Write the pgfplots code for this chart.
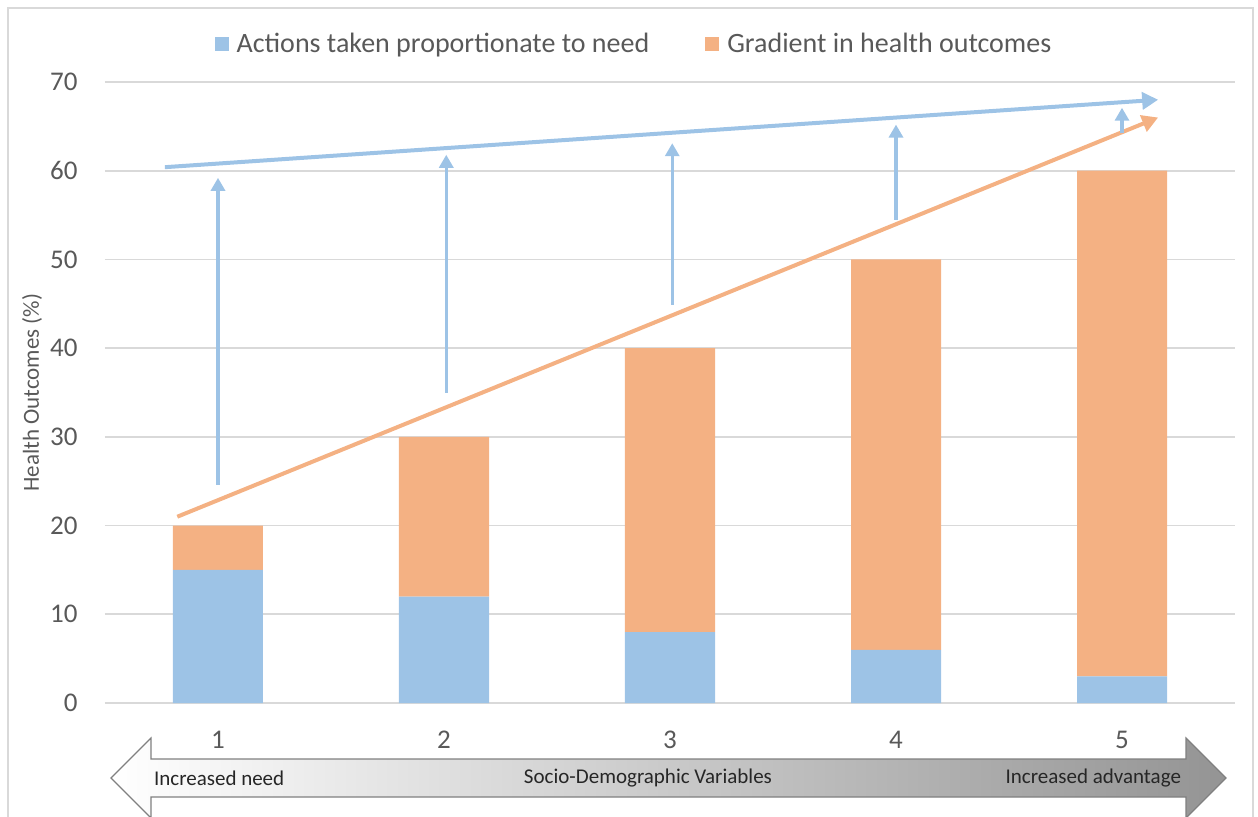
\documentclass[border=0pt]{standalone}
\usepackage{fontspec}
\setmainfont{Carlito}
\usepackage{pgfplots}
\pgfplotsset{compat=1.18}
\usetikzlibrary{arrows.meta}
\definecolor{barblue}{HTML}{9DC3E6}
\definecolor{barorange}{HTML}{F4B183}
\definecolor{txtgrey}{HTML}{595959}
\definecolor{gridgrey}{HTML}{D9D9D9}

\begin{document}
\begin{tikzpicture}
\path[use as bounding box] (-52.5pt,-56.5pt) rectangle (576.5pt,351.5pt);
\draw[gridgrey, line width=0.8pt] (-48.5pt,-70pt) |- (574pt,347.5pt) -- (574pt,-70pt);

% stacked bars
\begin{axis}[
  at={(0,0)}, anchor=south west,
  scale only axis, width=565pt, height=310.5pt,
  xmin=0.5, xmax=5.5, ymin=0, ymax=70,
  ybar stacked, bar width=45pt,
  xtick={1,...,5}, ytick={0,10,...,70},
  ymajorgrids, grid style={gridgrey, line width=0.8pt},
  axis line style={draw=none}, major tick length=0pt,
  tick label style={font=\fontsize{13.5}{15}\selectfont, text=txtgrey},
  /pgf/number format/assume math mode=true,
  xticklabel style={anchor=center, inner sep=0pt, yshift=-18.5pt},
  yticklabel style={anchor=east, inner sep=0pt, xshift=-13.5pt},
  ylabel={Health Outcomes (\%)},
  ylabel style={at={(axis description cs:-0.0646,0.5)}, anchor=center,
    font=\fontsize{11.5}{13}\selectfont, text=txtgrey},
  legend columns=2,
  legend style={at={(axis description cs:0.469,1.061)}, anchor=center,
    draw=none, fill=none, font=\fontsize{14}{16}\selectfont, text=txtgrey,
    /tikz/every odd column/.append style={column sep=2pt},
    /tikz/every even column/.append style={column sep=26pt}},
  legend image code/.code={\fill[#1] (0pt,-3.5pt) rectangle (7pt,3.5pt);},
]
\addplot[fill=barblue, draw=none] coordinates {(1,15) (2,12) (3,8) (4,6) (5,3)};
\addplot[fill=barorange, draw=none] coordinates {(1,5) (2,18) (3,32) (4,44) (5,57)};
\legend{Actions taken proportionate to need, Gradient in health outcomes}
\end{axis}

% trend lines and arrows
\begin{axis}[
  at={(0,0)}, anchor=south west,
  scale only axis, width=565pt, height=310.5pt,
  xmin=0.5, xmax=5.5, ymin=0, ymax=70,
  hide axis, clip=false,
]
\addplot[barblue, line width=2pt, -{Triangle[length=8pt,width=8.5pt]}] coordinates {(0.765,60.4) (5.16,68.0)};
\addplot[barorange, line width=2pt, -{Triangle[length=8pt,width=8.5pt]}] coordinates {(0.82,21.0) (5.16,66.0)};
\addplot[barblue, line width=1.7pt, -{Triangle[length=6.5pt,width=7pt]}] coordinates {(1.00,24.6) (1.00,59.2)};
\addplot[barblue, line width=1.7pt, -{Triangle[length=6.5pt,width=7pt]}] coordinates {(2.01,35.0) (2.01,61.8)};
\addplot[barblue, line width=1.7pt, -{Triangle[length=6.5pt,width=7pt]}] coordinates {(3.01,44.9) (3.01,63.1)};
\addplot[barblue, line width=1.7pt, -{Triangle[length=6.5pt,width=7pt]}] coordinates {(4.00,54.5) (4.00,65.2)};
\addplot[barblue, line width=1.7pt, -{Triangle[length=6.5pt,width=7pt]}] coordinates {(5.00,64.3) (5.00,67.1)};
\end{axis}

% double-headed block arrow below the axis
\shade[left color=white, right color=black!42, draw=black!50, line width=0.6pt]
  (3pt,-37.5pt) -- (23pt,-17.5pt) -- (23pt,-28pt) -- (540.5pt,-28pt)
  -- (540.5pt,-17.5pt) -- (560.5pt,-37.5pt) -- (540.5pt,-57.5pt)
  -- (540.5pt,-47pt) -- (23pt,-47pt) -- (23pt,-57.5pt) -- cycle;
\node[anchor=west, font=\fontsize{10.5}{12}\selectfont, text=black!85] at (21pt,-37.5pt) {Increased need};
\node[anchor=center, font=\fontsize{10.5}{12}\selectfont, text=black!85] at (271.5pt,-37.5pt) {Socio-Demographic Variables};
\node[anchor=east, font=\fontsize{10.5}{12}\selectfont, text=black!85] at (541.5pt,-37.5pt) {Increased advantage};
\end{tikzpicture}
\end{document}
